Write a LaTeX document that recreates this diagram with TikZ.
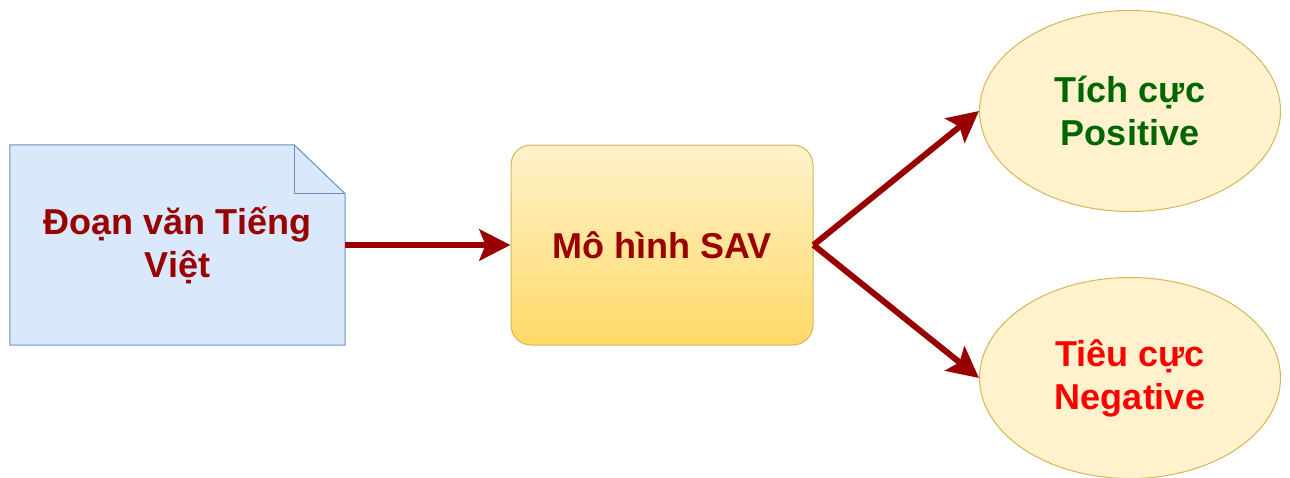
\documentclass[tikz,border=0pt]{standalone}
\usepackage{fontspec}
\setmainfont{Liberation Sans}
\usepackage{tikz}
\usetikzlibrary{arrows.meta,shapes.geometric,backgrounds}
\definecolor{darkred}{HTML}{990000}
\definecolor{docfill}{HTML}{DAE8FC}
\definecolor{docline}{HTML}{6C8EBF}
\definecolor{yellowfill}{HTML}{FFF2CC}
\definecolor{yellowdark}{HTML}{FFD966}
\definecolor{yellowline}{HTML}{D6B656}
\definecolor{posgreen}{HTML}{006600}
\definecolor{negred}{HTML}{FF0000}

\begin{document}
\begin{tikzpicture}[x=1pt,y=-1pt,
  txt/.style={font=\bfseries\fontsize{36}{43}\selectfont, align=center},
  result/.style={ellipse, draw=yellowline, fill=yellowfill, line width=1pt, minimum width=301pt, minimum height=201pt, inner sep=0pt, txt},
  flow/.style={darkred, line width=6pt, -{Stealth[length=31pt,width=31pt,inset=6pt]}}]
\useasboundingbox (0,0) rectangle (1290,477);
\node[txt, text=darkred, minimum width=335pt, minimum height=200pt, inner sep=0pt] (doc) at (177.5,245) {Đoạn văn Tiếng\\Việt};
\begin{scope}[on background layer]
\draw[docline, fill=docfill, line width=1pt] (doc.south west) -- (doc.north west) -- ([xshift=-51pt]doc.north east) -- ([yshift=-49pt]doc.north east) -- (doc.south east) -- cycle;
\draw[docline, line width=1pt] ([xshift=-51pt]doc.north east) -- ([xshift=-51pt,yshift=-49pt]doc.north east) -- ([yshift=-49pt]doc.north east);
\end{scope}
\node[txt, text=darkred, draw=yellowline, line width=1pt, rounded corners=20pt, top color=yellowfill, bottom color=yellowdark, minimum width=302pt, minimum height=200pt, inner sep=0pt] (model) at (662,245) {Mô hình SAV};
\node[result, text=posgreen] (pos) at (1130,111) {Tích cực\\Positive};
\node[result, text=negred] (neg) at (1130,378) {Tiêu cực\\Negative};
\draw[flow] (doc.east) -- (model.west);
\draw[flow] (model.east) -- (pos.west);
\draw[flow] (model.east) -- (neg.west);
\end{tikzpicture}
\end{document}
